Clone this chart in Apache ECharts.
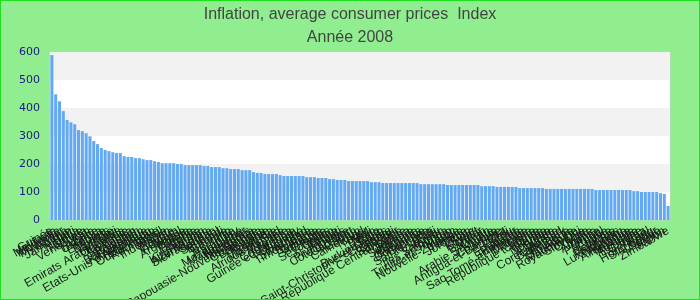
<!DOCTYPE html>
<html><head><meta charset="utf-8">
<script src="https://cdn.jsdelivr.net/npm/echarts@6/dist/echarts.min.js"></script>
<style>html,body{margin:0;padding:0;background:#90ee90;}#c{width:700px;height:300px;}</style>
</head><body><div id="c"></div>
<script>
const titleText = "Inflation, average consumer prices  Index";
const subTitleText = "Année 2008";
const countries = [
"Guinée","Moldavie","Mongolie","Myanmar","Ghana","Jamaïque","Haïti","Nigeria","Turquie","Venezuela",
"Iran","Russie","Ukraine","Kenya","Ethiopie","Bélarus","Zambie","Malawi","Emirats Arabes Unis","Ouganda",
"Tanzanie","Sri Lanka","Pakistan","Bangladesh","Kazakhstan","Etats-Unis d'Amérique","Tadjikistan","Ouzbékistan","Roumanie","Brésil",
"Indonésie","Yémen","Egypte","Vietnam","Népal","Argentine","Bolivie","Algérie","Lettonie","Serbie",
"Kirghizistan","Azerbaïdjan","Sierra Leone","Soudan","Sénégal","Burundi","Gambie","Lesotho","Inde","Paraguay",
"Mozambique","Madagascar","Honduras","Nicaragua","Papouasie-Nouvelle-Guinée","Guatemala","Botswana","Namibie","Rwanda","Mauritanie",
"Afrique du Sud","Maurice","Lituanie","Costa Rica","Guinée équatoriale","Uruguay","Hongrie","Swaziland","Timor-Leste","Bulgarie",
"Géorgie","Arménie","Croatie","Seychelles","Congo","Tonga","Kiribati","Philippines","Côte d'Ivoire","Cap-Vert",
"Gabon","Cameroun","Tchad","Niger","Mali","Bénin","Togo","Burkina Faso","Saint-Christophe-et-Niévès","Comores",
"Djibouti","Salvador","République Centrafricaine","Belize","Guyana","Suriname","Barbade","Bahamas","Dominique","Grenade",
"Sainte-Lucie","Fidji","Vanuatu","Iles Salomon","Samoa","Trinité-et-Tobago","Maroc","Nouvelle-Zélande","Tunisie","Jordanie",
"Liban","Syrie","Koweït","Qatar","Bahreïn","Oman","Arabie Saoudite","Libye","Colombie","Antigua-et-Barbuda",
"Chili","Pérou","Equateur","Panama","Thaïlande","Sao Tomé-et-Principe","Malaisie","Chine","République tchèque","Irlande",
"Islande","Norvège","Suède","Finlande","Corée du Sud","Danemark","Pologne","Slovaquie","Macédoine","Royaume-Uni",
"Slovénie","Chypre","Malte","Albanie","Grèce","Portugal","Italie","France","Belgique","Pays-Bas",
"Luxembourg","Autriche","Allemagne","Mexique","Australie","Espagne","Canada","Israël","Hong Kong","Singapour",
"Suisse","Japon","Zimbabwe"
];
const values = [
589,449,424,389,357,349,342,321,317,310,
299,282,271,257,250,246,242,239,239,228,
225,225,221,221,217,214,214,210,207,203,
203,203,203,200,200,196,196,196,196,196,
193,193,189,189,189,185,185,182,182,182,
178,178,178,171,168,168,164,164,164,164,
160,157,157,157,157,157,157,153,153,153,
150,150,150,146,146,143,143,143,139,139,
139,139,139,139,135,135,135,132,132,132,
132,132,132,132,132,132,132,128,128,128,
128,128,128,128,125,125,125,125,125,125,
125,125,125,121,121,121,121,118,118,118,
118,118,118,114,114,114,114,114,114,114,
111,111,111,111,111,111,111,111,111,111,
111,111,111,107,107,107,107,107,107,107,
107,107,107,103,103,100,100,100,100,100,
96,93,50
];
const yTicks = [0,100,200,300,400,500,600];

const chart = echarts.init(document.getElementById('c'), null, {renderer:'canvas'});
chart.setOption({
  backgroundColor: '#90ee90',
  animation: false,
  title: {
    text: titleText, subtext: subTitleText, left: 'center', top: 2, itemGap: 7,
    textStyle: {fontFamily: 'Liberation Sans', fontSize: 16, fontWeight: 'normal', color: '#444'},
    subtextStyle: {fontFamily: 'Liberation Sans', fontSize: 16, color: '#444'}
  },
  graphic: [{type:'rect', shape:{x:0,y:0,width:700,height:300}, style:{fill:'none', stroke:'#1fe01f', lineWidth:2}, z:100}],
  grid: {left: 50, right: 30, top: 52, bottom: 80, show: true, borderColor: '#cccccc', borderWidth: 1,
         backgroundColor: 'transparent', containLabel: false, outerBoundsMode: 'none'},
  xAxis: {
    type: 'category', data: countries,
    axisLine: {show: false}, axisTick: {show: false},
    axisLabel: {interval: 0, rotate: 30, fontFamily: 'Liberation Sans', fontSize: 12, color: '#1a1a1a', margin: 10, hideOverlap: false}
  },
  yAxis: {
    type: 'value', min: yTicks[0], max: yTicks[yTicks.length-1], interval: 100,
    axisLine: {show: false}, axisTick: {show: false},
    splitLine: {show: false},
    splitArea: {show: true, areaStyle: {color: ['#ffffff', '#f2f2f2']}},
    axisLabel: {fontFamily: 'DejaVu Sans', fontSize: 11, color: '#1a1a80', margin: 10}
  },
  series: [{type: 'bar', data: values, barCategoryGap: '20%', itemStyle: {color: '#63a9f2'}}]
});
</script></body></html>
